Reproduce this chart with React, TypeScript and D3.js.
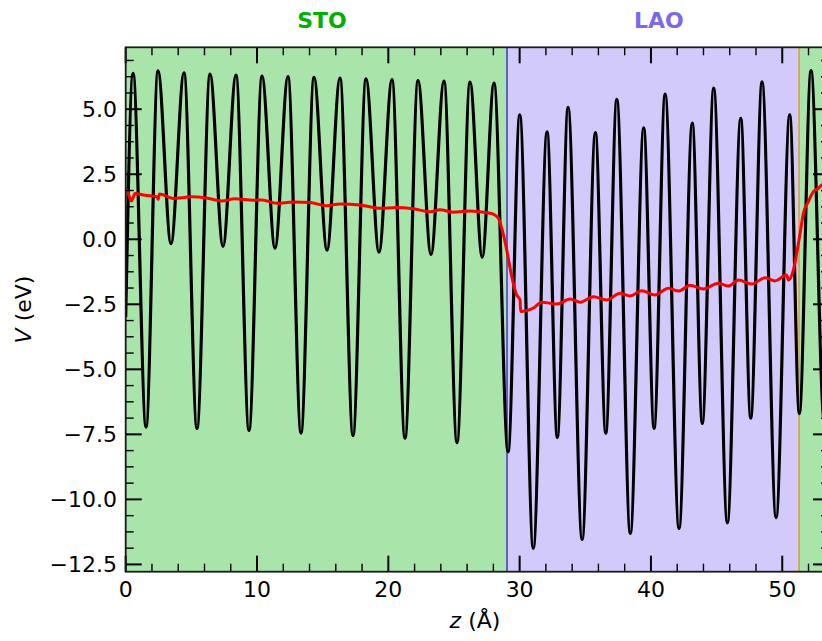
import React from 'react';
import * as d3 from 'd3';

const W = 822;
const H = 641;
const PL = 125.7;
const PR = 829;
const PT = 47.3;
const PB = 571.7;

// Planar-averaged potential (extrema)
const potentialZ = [
  0, 0.56, 1.55, 2.46, 3.45, 4.44, 5.43, 6.42, 7.41, 8.4, 9.39, 10.38, 11.37, 12.36,
  13.35, 14.34, 15.33, 16.32, 17.31, 18.3, 19.29, 20.28, 21.27, 22.26, 23.25, 24.24,
  25.23, 26.22, 27.15, 28.05, 29.12, 30.01, 31.04, 32.09, 32.87, 33.69, 34.76, 35.77,
  36.56, 37.4, 38.43, 39.45, 40.24, 41.08, 42.14, 43.15, 43.91, 44.78, 45.82, 46.84,
  47.6, 48.46, 49.53, 50.57, 51.3, 52.19, 53.2, 53.56,
];
const potentialV = [
  -3.0, 6.38, -7.22, 6.47, -0.17, 6.4, -7.28, 6.35, -0.27, 6.31, -7.35, 6.27, -0.34, 6.25,
  -7.45, 6.22, -0.42, 6.2, -7.55, 6.17, -0.5, 6.14, -7.65, 6.1, -0.58, 6.08,
  -7.82, 6.04, -0.69, 6.0, -8.17, 4.78, -11.88, 4.13, -7.62, 5.07, -11.54, 4.1,
  -7.46, 5.38, -11.31, 4.28, -7.27, 5.58, -11.12, 4.47, -7.08, 5.81, -10.9, 4.65,
  -6.88, 6.05, -10.7, 4.78, -6.7, 6.48, -7.0, -3.0,
];

// Macroscopic average (red)
const macroZ = [
  0, 0.08, 0.44, 0.71, 1.47, 2.36, 2.48, 2.57, 3.6, 5.03, 6.04, 7.31, 8.32, 9.72, 10.38,
  11.5, 12.76, 14.04, 15.31, 16.32, 17.84, 19.37, 20.64, 21.9, 23.18, 23.94, 24.95,
  26.22, 27.49, 28.0, 28.38, 28.64, 29.02, 29.4, 29.78, 30.03, 30.08, 30.54, 31.04,
  31.68, 32.83, 33.84, 34.6, 35.61, 36.63, 37.65, 38.41, 39.3, 40.31, 41.33, 42.09,
  42.98, 43.99, 45.13, 45.9, 46.66, 47.68, 48.69, 49.45, 50.34, 50.46, 50.85, 51.1,
  51.36, 51.61, 51.99, 52.37, 52.75, 53.03, 53.56,
];
const macroV = [
  1.92, 1.9, 1.47, 1.76, 1.69, 1.64, 1.54, 1.74, 1.57, 1.63, 1.6, 1.47, 1.56, 1.5, 1.51,
  1.38, 1.43, 1.41, 1.29, 1.36, 1.32, 1.19, 1.22, 1.17, 1.06, 1.13, 1.04,
  1.09, 1.02, 0.97, 0.81, 0.42, -0.41, -1.44, -2.14, -2.33, -2.78, -2.74, -2.65,
  -2.42, -2.49, -2.3, -2.42, -2.21, -2.33, -2.08, -2.18, -1.98, -2.14, -1.88, -1.99,
  -1.77, -1.91, -1.69, -1.8, -1.57, -1.72, -1.48, -1.6, -1.37, -1.57, -1.18, -0.54,
  0.23, 1.0, 1.45, 1.83, 1.96, 2.09, 2.15,
];

const regionStart = [0, 29.04, 51.28];
const regionEnd = [29.04, 51.28, 53.56];
const regionColors = ['#a9e5ab', '#d2cafb', '#a9e5ab'];
const interfaceZ = [29.04, 51.28];
const interfaceColors = ['#3f33d4', '#e39a2a'];
const layerLabels = ['STO', 'LAO'];
const layerLabelZ = [14.95, 40.6];
const layerLabelColors = ['#00b000', '#7b68ee'];

const xTicks = [0, 10, 20, 30, 40, 50];
const yTicks = [5, 2.5, 0, -2.5, -5, -7.5, -10, -12.5];

export default function App() {
  const x = d3.scaleLinear().domain([0, 53.56]).range([PL, PR]);
  const y = d3.scaleLinear().domain([-12.78, 7.38]).range([PB, PT]);

  const potLine = d3
    .line<number>()
    .x((_, i) => x(potentialZ[i]))
    .y((d) => y(d))
    .curve(d3.curveMonotoneX);
  const macLine = d3
    .line<number>()
    .x((_, i) => x(macroZ[i]))
    .y((d) => y(d))
    .curve(d3.curveMonotoneX);

  const xMinor = d3.range(0, 54, 2).filter((v) => v % 10 !== 0 && v <= 53.56);
  const yMinor = d3
    .range(-12.5, 7.4, 0.625)
    .filter((v) => Math.abs(v / 2.5 - Math.round(v / 2.5)) > 1e-6 && v <= 7.38 && v >= -12.78);

  const fmt = d3.format('.1f');
  const MAJ = 16;
  const MIN = 8;

  return (
    <svg
      width={W}
      height={H}
      style={{ position: 'absolute', left: 0, top: 0, fontFamily: 'DejaVu Sans, sans-serif' }}
    >
      <defs>
        <clipPath id="plotArea">
          <rect x={PL} y={PT} width={PR - PL} height={PB - PT} />
        </clipPath>
      </defs>
      <rect x={0} y={0} width={W} height={H} fill="#ffffff" />
      <g clipPath="url(#plotArea)">
        {regionStart.map((s, i) => (
          <rect
            key={'r' + i}
            x={x(s)}
            y={PT}
            width={x(regionEnd[i]) - x(s)}
            height={PB - PT}
            fill={regionColors[i]}
          />
        ))}
        {interfaceZ.map((z, i) => (
          <line
            key={'i' + i}
            x1={x(z)}
            x2={x(z)}
            y1={PT}
            y2={PB}
            stroke={interfaceColors[i]}
            strokeWidth={1.5}
          />
        ))}
        <path d={potLine(potentialV) || ''} fill="none" stroke="#000" strokeWidth={3.2} strokeLinejoin="round" />
        <path d={macLine(macroV) || ''} fill="none" stroke="#ff0000" strokeWidth={3} strokeLinejoin="round" />
      </g>

      {/* ticks */}
      <g stroke="#000">
        {xTicks.map((t) => (
          <g key={'xt' + t}>
            <line x1={x(t)} x2={x(t)} y1={PB} y2={PB - MAJ} strokeWidth={2} />
            <line x1={x(t)} x2={x(t)} y1={PT} y2={PT + MAJ} strokeWidth={2} />
          </g>
        ))}
        {xMinor.map((t) => (
          <g key={'xm' + t}>
            <line x1={x(t)} x2={x(t)} y1={PB} y2={PB - MIN} strokeWidth={1.4} />
            <line x1={x(t)} x2={x(t)} y1={PT} y2={PT + MIN} strokeWidth={1.4} />
          </g>
        ))}
        {yTicks.map((t) => (
          <g key={'yt' + t}>
            <line x1={PL} x2={PL + MAJ} y1={y(t)} y2={y(t)} strokeWidth={2} />
            <line x1={PR} x2={PR - MAJ} y1={y(t)} y2={y(t)} strokeWidth={2} />
          </g>
        ))}
        {yMinor.map((t) => (
          <g key={'ym' + t}>
            <line x1={PL} x2={PL + MIN} y1={y(t)} y2={y(t)} strokeWidth={1.4} />
            <line x1={PR} x2={PR - MIN} y1={y(t)} y2={y(t)} strokeWidth={1.4} />
          </g>
        ))}
      </g>
      <rect x={PL} y={PT} width={PR - PL} height={PB - PT} fill="none" stroke="#1a1a1a" strokeWidth={1.8} />

      {/* tick labels */}
      {xTicks.map((t) => (
        <text key={'xl' + t} x={x(t)} y={597} fontSize={22} textAnchor="middle" fill="#000">
          {String(t)}
        </text>
      ))}
      {yTicks.map((t) => (
        <text key={'yl' + t} x={117} y={y(t)} dy="0.36em" fontSize={22} textAnchor="end" fill="#000">
          {fmt(t)}
        </text>
      ))}

      {/* axis titles */}
      <text x={475} y={628} fontSize={22} textAnchor="middle" fill="#000">
        <tspan fontStyle="italic">z</tspan> (Å)
      </text>
      <text
        transform={`translate(31, ${(PT + PB) / 2}) rotate(-90)`}
        fontSize={22}
        textAnchor="middle"
        fill="#000"
      >
        <tspan fontStyle="italic">V</tspan> (eV)
      </text>

      {/* layer labels */}
      {layerLabels.map((lab, i) => (
        <text
          key={'ll' + i}
          x={x(layerLabelZ[i])}
          y={28}
          fontSize={22}
          fontWeight="bold"
          textAnchor="middle"
          fill={layerLabelColors[i]}
        >
          {lab}
        </text>
      ))}
    </svg>
  );
}
